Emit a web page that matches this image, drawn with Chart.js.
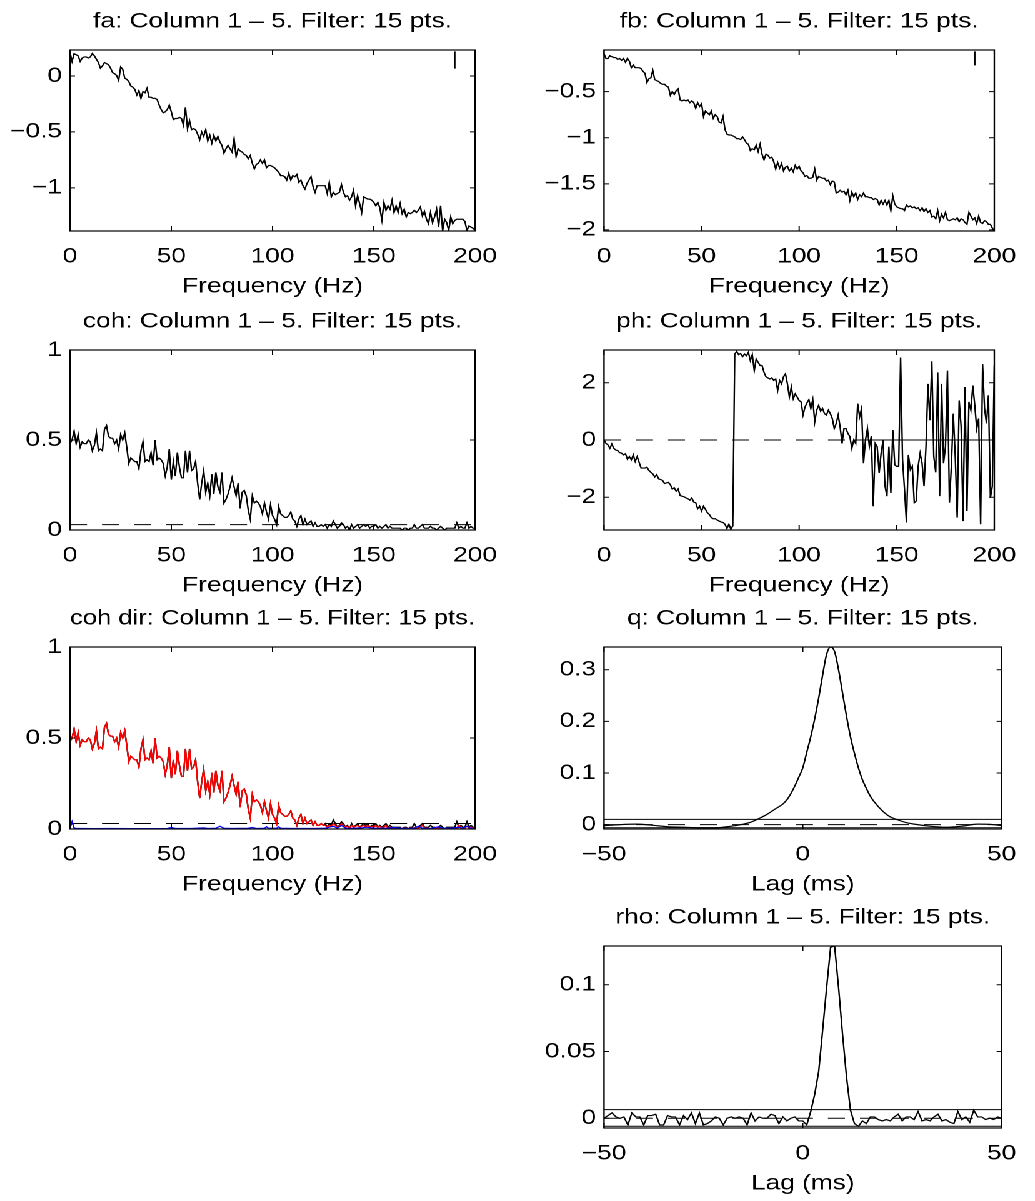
<!DOCTYPE html>
<html>
<head>
<meta charset="utf-8">
<script src="https://cdn.jsdelivr.net/npm/chart.js@4.4.1/dist/chart.umd.min.js"></script>
<style>
  html, body { margin: 0; padding: 0; background: #fff; overflow: hidden; }
  /* the reference figure is stretched horizontally, so draw narrow and widen */
  #fig { position: relative; width: 828px; height: 1201px; transform: scaleX(1.25); transform-origin: 0 0; }
  #fig canvas { position: absolute; }
</style>
</head>
<body>
<div id="fig">
  <canvas id="fa"></canvas>
  <canvas id="fb"></canvas>
  <canvas id="coh"></canvas>
  <canvas id="ph"></canvas>
  <canvas id="cohdir"></canvas>
  <canvas id="q"></canvas>
  <canvas id="rho"></canvas>
</div>
<script>
// ---- data ----
// spectra are sampled every 1 Hz from 0 to 200 Hz
const freqHz = Array.from({ length: 201 }, (_, i) => i);
const freqTicks = [0, 50, 100, 150, 200];
const lagTicks = [-50, 0, 50];

const faVals = [
  0.21, 0.13, 0.20, 0.19, 0.18, 0.13, 0.16, 0.17, 0.17, 0.16,
  0.17, 0.20, 0.18, 0.15, 0.12, 0.07, 0.09, 0.12, 0.11, 0.10,
  0.07, 0.03, 0.02, 0.005, -0.04, 0.08, 0.06, -0.02, -0.03, -0.05,
  -0.09, -0.10, -0.12, -0.17, -0.13, -0.20, -0.14, -0.15, -0.11, -0.19,
  -0.19, -0.20, -0.20, -0.21, -0.26, -0.30, -0.33, -0.32, -0.30, -0.26,
  -0.32, -0.39, -0.38, -0.38, -0.37, -0.38, -0.44, -0.28, -0.47, -0.40,
  -0.48, -0.47, -0.48, -0.52, -0.57, -0.50, -0.54, -0.48, -0.58, -0.53,
  -0.60, -0.53, -0.58, -0.54, -0.59, -0.62, -0.69, -0.65, -0.62, -0.65,
  -0.68, -0.56, -0.72, -0.65, -0.67, -0.68, -0.70, -0.71, -0.74, -0.71,
  -0.78, -0.83, -0.79, -0.78, -0.75, -0.78, -0.75, -0.82, -0.80, -0.80,
  -0.81, -0.82, -0.84, -0.86, -0.89, -0.89, -0.90, -0.93, -0.87, -0.93,
  -0.89, -0.90, -0.88, -0.95, -0.93, -0.98, -1.01, -0.96, -0.93, -0.90,
  -0.99, -1.04, -0.98, -0.98, -0.98, -0.98, -0.98, -1.05, -0.95, -1.08,
  -1.04, -1.06, -1.05, -1.04, -0.97, -1.04, -1.08, -1.07, -1.11, -1.08,
  -1.02, -1.16, -1.07, -1.14, -1.22, -1.08, -1.09, -1.10, -1.10, -1.11,
  -1.13, -1.16, -1.13, -1.18, -1.29, -1.13, -1.20, -1.16, -1.19, -1.11,
  -1.22, -1.16, -1.22, -1.14, -1.23, -1.19, -1.26, -1.22, -1.23, -1.22,
  -1.20, -1.22, -1.20, -1.17, -1.25, -1.21, -1.28, -1.32, -1.22, -1.31,
  -1.26, -1.19, -1.35, -1.16, -1.38, -1.28, -1.31, -1.38, -1.26, -1.32,
  -1.29, -1.28, -1.28, -1.28, -1.28, -1.30, -1.38, -1.34, -1.35, -1.36, -1.38
];
const faMarkY = [0.22, 0.066];
const faTicks = [-1, -0.5, 0];

const fbVals = [
  -0.09, -0.14, -0.14, -0.11, -0.12, -0.13, -0.13, -0.15, -0.14, -0.16,
  -0.14, -0.18, -0.14, -0.17, -0.24, -0.21, -0.24, -0.24, -0.24, -0.25,
  -0.28, -0.30, -0.40, -0.36, -0.35, -0.27, -0.37, -0.38, -0.39, -0.41,
  -0.42, -0.42, -0.44, -0.45, -0.54, -0.50, -0.53, -0.49, -0.47, -0.59,
  -0.60, -0.59, -0.60, -0.59, -0.62, -0.60, -0.62, -0.68, -0.62, -0.66,
  -0.63, -0.77, -0.71, -0.73, -0.75, -0.71, -0.79, -0.75, -0.77, -0.83,
  -0.84, -0.77, -0.91, -0.96, -0.97, -0.97, -0.98, -0.99, -1.01, -1.01,
  -1.02, -0.99, -1.02, -1.06, -1.07, -1.14, -1.12, -1.13, -1.08, -1.15,
  -1.07, -1.18, -1.24, -1.18, -1.19, -1.22, -1.21, -1.26, -1.34, -1.27,
  -1.33, -1.28, -1.36, -1.32, -1.31, -1.36, -1.33, -1.37, -1.30, -1.34,
  -1.31, -1.36, -1.38, -1.42, -1.41, -1.44, -1.44, -1.43, -1.34, -1.46,
  -1.42, -1.43, -1.44, -1.44, -1.47, -1.46, -1.51, -1.47, -1.48, -1.60,
  -1.59, -1.57, -1.59, -1.58, -1.62, -1.57, -1.68, -1.59, -1.64, -1.60,
  -1.67, -1.62, -1.64, -1.60, -1.64, -1.64, -1.65, -1.65, -1.67, -1.66,
  -1.67, -1.73, -1.68, -1.72, -1.68, -1.73, -1.68, -1.79, -1.63, -1.72,
  -1.75, -1.76, -1.77, -1.77, -1.79, -1.73, -1.75, -1.74, -1.76, -1.75,
  -1.77, -1.76, -1.79, -1.76, -1.80, -1.77, -1.81, -1.79, -1.86, -1.85,
  -1.88, -1.79, -1.90, -1.83, -1.87, -1.81, -1.89, -1.90, -1.89, -1.88,
  -1.89, -1.87, -1.91, -1.88, -1.89, -1.92, -1.94, -1.81, -1.85, -1.89,
  -1.87, -1.93, -1.85, -1.92, -1.93, -1.90, -1.91, -1.94, -1.94, -1.98, -2.01
];
const fbMarkY = [-0.063, -0.215];
const fbTicks = [-2, -1.5, -1, -0.5];

const cohVals = [
  0.48, 0.50, 0.55, 0.48, 0.53, 0.46, 0.49, 0.48, 0.48, 0.50,
  0.49, 0.44, 0.47, 0.54, 0.44, 0.45, 0.44, 0.56, 0.58, 0.52,
  0.51, 0.51, 0.48, 0.50, 0.45, 0.53, 0.50, 0.54, 0.46, 0.37,
  0.40, 0.39, 0.38, 0.38, 0.34, 0.44, 0.49, 0.38, 0.39, 0.38,
  0.43, 0.36, 0.50, 0.39, 0.40, 0.39, 0.37, 0.30, 0.35, 0.45,
  0.28, 0.38, 0.30, 0.43, 0.35, 0.29, 0.29, 0.44, 0.32, 0.44,
  0.33, 0.34, 0.38, 0.26, 0.17, 0.26, 0.33, 0.21, 0.26, 0.19,
  0.31, 0.20, 0.32, 0.24, 0.21, 0.32, 0.15, 0.17, 0.20, 0.24,
  0.29, 0.24, 0.19, 0.26, 0.12, 0.21, 0.22, 0.19, 0.11, 0.06,
  0.19, 0.15, 0.16, 0.15, 0.13, 0.09, 0.15, 0.10, 0.06, 0.14,
  0.08, 0.06, 0.03, 0.13, 0.09, 0.08, 0.07, 0.07, 0.08, 0.10,
  0.06, 0.05, 0.02, 0.06, 0.08, 0.03, 0.06, 0.03, 0.04, 0.05,
  0.02, 0.04, 0.02, 0.02, 0.03, 0.02, 0.03, 0.01, 0.03, 0.02,
  0.05, 0.03, 0.01, 0.02, 0.04, 0.03, 0.01, 0.02, 0.00, 0.03,
  0.01, 0.02, 0.03, 0.01, 0.02, 0.03, 0.02, 0.03, 0.01, 0.02,
  0.02, 0.03, 0.01, 0.02, 0.01, 0.02, 0.03, 0.01, 0.02, 0.01,
  0.01, 0.01, 0.01, 0.01, 0.00, 0.01, 0.01, 0.00, 0.01, 0.01,
  0.03, 0.01, 0.01, 0.02, 0.03, 0.01, 0.01, 0.01, 0.02, 0.01,
  0.01, 0.00, 0.01, 0.02, 0.01, 0.00, 0.01, 0.01, 0.01, 0.01,
  0.01, 0.04, 0.01, 0.02, 0.01, 0.01, 0.04, 0.01, 0.02, 0.01, 0.01
];
const cohLimit = 0.03;
const unitTicks = [0, 0.5, 1];

const phVals = [
  0, -0.12, -0.17, -0.29, -0.14, -0.29, -0.35, -0.37, -0.44, -0.46,
  -0.52, -0.48, -0.67, -0.58, -0.69, -0.52, -0.75, -0.58, -0.78, -0.98,
  -0.98, -0.98, -0.95, -1.06, -1.13, -1.18, -1.29, -1.21, -1.36, -1.38,
  -1.41, -1.52, -1.50, -1.48, -1.56, -1.71, -1.67, -1.79, -1.71, -1.94,
  -1.96, -1.98, -2.02, -2.05, -2.10, -2.02, -2.17, -2.19, -2.40, -2.31,
  -2.48, -2.31, -2.42, -2.54, -2.60, -2.71, -2.75, -2.75, -2.79, -2.83,
  -2.86, -2.88, -2.94, -3.09, -2.94, -3.11, -3.00, 3.00, 3.09, 2.98,
  3.02, 2.91, 3.00, 2.94, 3.06, 2.77, 2.98, 2.42, 2.83, 2.71,
  2.60, 2.60, 2.36, 2.21, 2.17, 2.13, 2.17, 2.08, 2.13, 1.73,
  2.08, 1.96, 2.21, 2.31, 1.96, 1.50, 1.85, 1.44, 1.61, 1.50,
  1.38, 1.33, 0.87, 1.15, 1.29, 1.41, 1.10, 1.41, 0.63, 1.04,
  1.21, 1.01, 1.10, 0.92, 0.87, 1.04, 0.92, 0.75, 0.40, 0.58,
  0.87, 0.46, -0.12, 0.40, 0.40, 0.23, 0.12, -0.29, 0, -0.12,
  1.27, 0.81, 1.10, -0.81, 0, 0.40, -0.23, 0.14, -2.31, -0.12,
  -0.23, -1.15, -0.46, -0.02, -1.61, -1.96, -0.23, -1.85, 0.35, -0.87,
  -0.92, -0.92, 2.88, -0.69, -1.73, -2.88, -0.52, -1.04, -0.92, -2.19,
  -2.13, -0.92, -0.46, -0.81, -1.61, -0.23, 1.96, 0.69, 2.75, -0.58,
  -1.13, 2.36, -1.96, 1.96, -0.81, -0.23, 2.42, -2.19, -0.92, 0.92,
  -0.58, -2.71, 1.38, 0.46, -2.83, 1.85, -2.48, 1.33, 1.04, 1.90,
  1.21, 0.40, 0.75, -2.94, 2.65, 1.10, 0.58, 1.56, -2.02, -1.61, 2.60
];
const phZeroFrom = 128;
const phTicks = [-2, 0, 2];

// directional coherence: forward (red) follows coh up to 125 Hz
const cohFwdTail = [
  0.02, 0.01, 0.02, 0.015, 0.03, 0.02, 0.01, 0.015, 0.03, 0.02, 0.01, 0.015, 0.005, 0.02, 0.01,
  0.015, 0.02, 0.01, 0.015, 0.02, 0.01, 0.02, 0.01, 0.015, 0.01, 0.02, 0.01, 0.015, 0.005, 0.01,
  0.02, 0.005, 0.01, 0.005, 0.005, 0.005, 0.004, 0.005, 0.003, 0.005, 0.004, 0.003, 0.005, 0.004, 0.008,
  0.004, 0.005, 0.01, 0.02, 0.005, 0.004, 0.005, 0.003, 0.004, 0.005, 0.003, 0.004, 0.006, 0.005, 0.003,
  0.004, 0.005, 0.004, 0.005, 0.004, 0.005, 0.02, 0.005, 0.004, 0.005, 0.015, 0.005, 0.01, 0.004, 0.003
];
const cohFwdVals = cohVals.slice(0, 126).concat(cohFwdTail);
const cohRevHz = [
  0, 1, 2, 3, 6, 12, 20, 30, 40, 48, 50, 52, 60, 66, 68, 72, 74, 76, 80, 88,
  90, 92, 96, 97, 98, 102, 103, 104, 110, 120, 126, 128, 130, 132, 134, 136, 140, 144, 146, 150,
  156, 160, 165, 170, 172, 174, 178, 182, 184, 188, 192, 194, 196, 198, 200
];
const cohRevVals = [
  0.005, 0.04, 0.006, 0.003, 0.003, 0.002, 0.003, 0.002, 0.002, 0.003,
  0.008, 0.003, 0.003, 0.006, 0.003, 0.004, 0.015, 0.004, 0.003, 0.004,
  0.008, 0.003, 0.004, 0.012, 0.004, 0.004, 0.012, 0.004, 0.003, 0.003,
  0.004, 0.01, 0.015, 0.005, 0.02, 0.005, 0.004, 0.006, 0.01, 0.005,
  0.004, 0.008, 0.003, 0.004, 0.015, 0.004, 0.003, 0.012, 0.004, 0.004,
  0.01, 0.004, 0.015, 0.004, 0.003
];

const qLag = [
  -50, -46, -42, -38, -34, -30, -26, -22, -18, -15, -13, -11, -9, -7, -5, -4, -3, -2, -1, 0,
  1, 2, 3, 4, 5, 6, 7, 8, 9, 10, 11, 12, 13, 14, 15, 16, 17, 18, 20, 22, 24, 26, 28,
  32, 36, 40, 44, 48, 50
];
const qVals = [
  -0.002, 0.000, 0.001, -0.001, -0.004, -0.005, -0.006, -0.006, -0.003, 0.001,
  0.005, 0.012, 0.02, 0.03, 0.04, 0.048, 0.06, 0.075, 0.092, 0.11,
  0.14, 0.17, 0.205, 0.245, 0.29, 0.33, 0.344, 0.335, 0.30, 0.255,
  0.21, 0.17, 0.138, 0.11, 0.087, 0.07, 0.055, 0.044, 0.027, 0.015,
  0.009, 0.004, 0.001, -0.003, -0.005, -0.003, 0.001, 0.000, -0.002
];
const qUpper = 0.0103;
const qLower = -0.006;
const qTicks = [0, 0.1, 0.2, 0.3];

// rho is sampled every 1 ms from -50 to 50 ms
const rhoLag = Array.from({ length: 101 }, (_, i) => i - 50);
const rhoVals = [
  0.000, 0.002, 0.004, 0.001, 0.000, 0.001, -0.005, 0.004, 0.001, 0.001,
  -0.005, 0.002, 0.002, 0.003, -0.005, -0.005, 0.002, 0.001, 0.001, -0.005,
  0.002, -0.001, 0.004, -0.004, 0.004, -0.005, -0.004, -0.002, 0.001, 0.000,
  -0.005, 0.000, 0.001, 0.000, 0.001, 0.000, -0.005, 0.004, -0.002, 0.001,
  0.000, 0.000, 0.003, 0.002, -0.004, 0.001, -0.002, 0.000, 0.001, -0.002,
  -0.002, -0.005, 0.005, 0.018, 0.035, 0.066, 0.098, 0.128, 0.129, 0.098,
  0.063, 0.031, 0.006, -0.004, -0.006, -0.002, -0.004, 0.001, 0.001, -0.001,
  -0.002, -0.001, -0.002, 0.001, 0.003, -0.002, 0.001, 0.001, -0.001, 0.005,
  -0.002, -0.001, -0.002, 0.001, 0.003, -0.002, -0.001, -0.003, -0.004, 0.005,
  -0.001, 0.001, -0.003, 0.006, 0.001, 0.001, -0.001, 0.000, -0.001, 0.001, 0.000
];
const rhoUpper = 0.0065;
const rhoLower = -0.006;
const rhoTicks = [0, 0.05, 0.1];

// ---- layout ----
const FONT = "'Liberation Sans', Arial, Helvetica, sans-serif";
const FONT_SIZE = 21;
const TITLE_H = 39;     // title band above each plot box
const XAXIS_H = 66;     // tick labels + axis title under each plot box
const TICK_LEN = 5;
const STRETCH = 1.25;
const COLS = [
  { left: 0, width: 414, plotL: 56, plotR: 380 },
  { left: 414, width: 414, plotL: 69.2, plotR: 392.4 }
];
const ROWS = [
  { top: 50, bottom: 231 },
  { top: 350, bottom: 530 },
  { top: 647, bottom: 829 },
  { top: 946, bottom: 1128 }
];

Chart.defaults.font.family = FONT;
Chart.defaults.color = '#000';

const fmt = v => String(v).replace('-', '\u2212');
const pts = (xs, ys) => xs.map((x, i) => ({ x: x, y: ys[i] }));

// note: Chart.js paints the first dataset last, so list the top line first
function line(data, color, extra) {
  return Object.assign({
    data: data, borderColor: color, borderWidth: 1.2, pointRadius: 0,
    fill: false, tension: 0
  }, extra || {});
}
function hline(x0, x1, y, dashed) {
  return line([{ x: x0, y: y }, { x: x1, y: y }], '#000',
    dashed ? { borderDash: [13.6, 12], borderWidth: 1 } : { borderWidth: 1 });
}

// MATLAB-like box with inward ticks on all four sides
const matlabBox = {
  id: 'matlabBox',
  afterDatasetsDraw(chart) {
    const { ctx, chartArea: a, scales } = chart;
    ctx.save();
    ctx.strokeStyle = '#000';
    ctx.lineWidth = 1;
    ctx.beginPath();
    scales.x.ticks.forEach(t => {
      const px = scales.x.getPixelForValue(t.value);
      ctx.moveTo(px, a.bottom); ctx.lineTo(px, a.bottom - TICK_LEN);
      ctx.moveTo(px, a.top); ctx.lineTo(px, a.top + TICK_LEN);
    });
    scales.y.ticks.forEach(t => {
      const py = scales.y.getPixelForValue(t.value);
      ctx.moveTo(a.left, py); ctx.lineTo(a.left + TICK_LEN / STRETCH, py);
      ctx.moveTo(a.right, py); ctx.lineTo(a.right - TICK_LEN / STRETCH, py);
    });
    ctx.stroke();
    ctx.lineWidth = 1.2;
    ctx.strokeRect(a.left, a.top, a.right - a.left, a.bottom - a.top);
    ctx.restore();
  }
};

function panel(id, col, row, cfg) {
  const c = COLS[col], r = ROWS[row];
  const canvas = document.getElementById(id);
  canvas.width = c.width;
  canvas.height = TITLE_H + (r.bottom - r.top) + XAXIS_H;
  canvas.style.left = c.left + 'px';
  canvas.style.top = (r.top - TITLE_H) + 'px';
  const font = { family: FONT, size: FONT_SIZE, weight: 'normal', lineHeight: 1 };
  return new Chart(canvas, {
    type: 'line',
    data: { datasets: cfg.datasets },
    options: {
      responsive: false,
      animation: false,
      devicePixelRatio: 2,
      layout: { padding: { left: 0, right: c.width - c.plotR, top: 0, bottom: 0 } },
      plugins: {
        legend: { display: false },
        tooltip: { enabled: false },
        title: {
          display: true, text: cfg.title, fullSize: false, color: '#000',
          font: font, padding: { top: 0, bottom: 18 }
        }
      },
      scales: {
        x: {
          type: 'linear', min: cfg.xTicks[0], max: cfg.xTicks[cfg.xTicks.length - 1],
          afterBuildTicks: s => { s.ticks = cfg.xTicks.map(v => ({ value: v })); },
          afterFit: s => { s.height = XAXIS_H; },
          grid: { display: false, drawTicks: false },
          border: { display: false },
          ticks: { font: font, padding: 15, maxRotation: 0, autoSkip: false, callback: fmt },
          title: { display: true, text: cfg.xLabel, font: font, color: '#000', padding: 0 }
        },
        y: {
          type: 'linear', min: cfg.yMin, max: cfg.yMax,
          afterBuildTicks: s => { s.ticks = cfg.yTicks.map(v => ({ value: v })); },
          afterFit: s => { s.width = c.plotL; },
          grid: { display: false, drawTicks: false },
          border: { display: false },
          ticks: { font: font, padding: 6.4, autoSkip: false, callback: fmt }
        }
      }
    },
    plugins: [matlabBox]
  });
}

const FREQ = 'Frequency (Hz)';
const LAG = 'Lag (ms)';

panel('fa', 0, 0, {
  title: 'fa: Column 1 \u2013 5. Filter: 15 pts.', xLabel: FREQ,
  xTicks: freqTicks, yTicks: faTicks, yMin: -1.385, yMax: 0.232,
  datasets: [line(pts(freqHz, faVals), '#000'), line(pts([190, 190], faMarkY), '#000')]
});
panel('fb', 1, 0, {
  title: 'fb: Column 1 \u2013 5. Filter: 15 pts.', xLabel: FREQ,
  xTicks: freqTicks, yTicks: fbTicks, yMin: -2.012, yMax: -0.048,
  datasets: [line(pts(freqHz, fbVals), '#000'), line(pts([190, 190], fbMarkY), '#000')]
});
panel('coh', 0, 1, {
  title: 'coh: Column 1 \u2013 5. Filter: 15 pts.', xLabel: FREQ,
  xTicks: freqTicks, yTicks: unitTicks, yMin: 0, yMax: 1,
  datasets: [line(pts(freqHz, cohVals), '#000'), hline(0, 200, cohLimit, true)]
});
panel('ph', 1, 1, {
  title: 'ph: Column 1 \u2013 5. Filter: 15 pts.', xLabel: FREQ,
  xTicks: freqTicks, yTicks: phTicks, yMin: -Math.PI, yMax: Math.PI,
  datasets: [line(pts(freqHz, phVals), '#000'), hline(phZeroFrom, 200, 0, false), hline(0, 200, 0, true)]
});
panel('cohdir', 0, 2, {
  title: 'coh dir: Column 1 \u2013 5. Filter: 15 pts.', xLabel: FREQ,
  xTicks: freqTicks, yTicks: unitTicks, yMin: 0, yMax: 1,
  datasets: [
    line(pts(cohRevHz, cohRevVals), '#0000ff'),
    line(pts(freqHz, cohFwdVals), '#ff0000'),
    line(pts(freqHz, cohVals), '#000'),
    hline(0, 200, cohLimit, true)
  ]
});
panel('q', 1, 2, {
  title: 'q: Column 1 \u2013 5. Filter: 15 pts.', xLabel: LAG,
  xTicks: lagTicks, yTicks: qTicks, yMin: -0.0084, yMax: 0.344,
  datasets: [
    line(pts(qLag, qVals), '#000', { cubicInterpolationMode: 'monotone' }),
    hline(-50, 50, 0, true), hline(-50, 50, qUpper, false), hline(-50, 50, qLower, false)
  ]
});
panel('rho', 1, 3, {
  title: 'rho: Column 1 \u2013 5. Filter: 15 pts.', xLabel: LAG,
  xTicks: lagTicks, yTicks: rhoTicks, yMin: -0.0073, yMax: 0.129,
  datasets: [
    line(pts(rhoLag, rhoVals), '#000'),
    hline(-50, 50, 0, true), hline(-50, 50, rhoUpper, false), hline(-50, 50, rhoLower, false)
  ]
});
</script>
</body>
</html>
